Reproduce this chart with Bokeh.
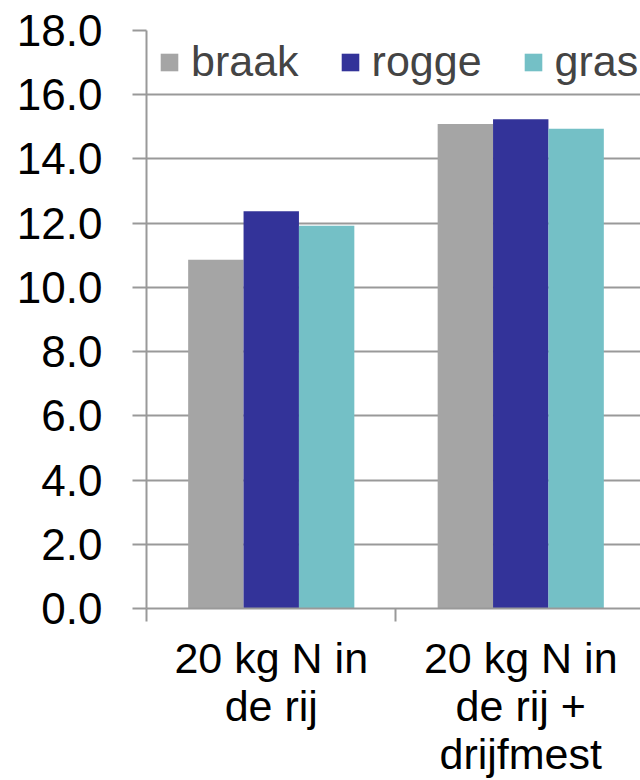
from bokeh.plotting import figure
from bokeh.models import (ColumnDataSource, Range1d, FixedTicker, Legend, LegendItem,
                          NumeralTickFormatter)
from bokeh.transform import dodge
from bokeh.embed import file_html
from bokeh.resources import INLINE

# ---- data ----
categories = ["20 kg N in\nde rij", "20 kg N in\nde rij +\ndrijfmest"]
series_names = ["braak", "rogge", "gras"]
braak = [10.86, 15.09]
rogge = [12.37, 15.24]
gras = [11.92, 14.94]
colors = ["#A5A5A5", "#333399", "#74C0C6"]
y_ticks = [0, 2, 4, 6, 8, 10, 12, 14, 16, 18]

FONT = "Liberation Sans"
FS = "43px"
GRID = "#999999"

pos = [i + 0.5 for i in range(len(categories))]
src = ColumnDataSource(dict(x=pos, braak=braak, rogge=rogge, gras=gras))

p = figure(width=640, height=780, output_backend="svg", toolbar_location=None,
           x_range=Range1d(0, 1.98), y_range=Range1d(0, 18),
           min_border_left=146, min_border_right=0, min_border_top=30, min_border_bottom=171)
p.outline_line_color = None
p.background_fill_color = "white"

bw = 0.222
offsets = [-bw, 0.0, bw]
renderers = []
for name, off, col in zip(series_names, offsets, colors):
    r = p.vbar(x=dodge("x", off), top=name, width=bw, source=src,
               fill_color=col, line_color=None)
    renderers.append(r)

# y axis
yax = p.yaxis[0]
yax.ticker = FixedTicker(ticks=y_ticks)
yax.formatter = NumeralTickFormatter(format="0.0")
yax.major_tick_out = 14
yax.major_tick_in = 0
yax.minor_tick_line_color = None
yax.axis_line_color = GRID
yax.axis_line_width = 2
yax.major_tick_line_color = GRID
yax.major_tick_line_width = 2
yax.major_label_text_font = FONT
yax.major_label_text_font_size = "44px"
yax.major_label_text_color = "black"
yax.major_label_standoff = 30

# x axis
xax = p.xaxis[0]
xax.ticker = FixedTicker(ticks=pos, minor_ticks=[0, 1, 2])
xax.major_label_overrides = {pv: c for pv, c in zip(pos, categories)}
xax.major_tick_line_color = None
xax.major_tick_out = 0
xax.major_tick_in = 0
xax.minor_tick_out = 13
xax.minor_tick_in = 0
xax.minor_tick_line_color = GRID
xax.minor_tick_line_width = 2
xax.axis_line_color = GRID
xax.axis_line_width = 2
xax.major_label_text_font = FONT
xax.major_label_text_font_size = FS
xax.major_label_text_color = "black"
xax.major_label_text_line_height = 1.0
xax.major_label_standoff = 12

p.xgrid.grid_line_color = None
p.ygrid.ticker = FixedTicker(ticks=y_ticks)
p.ygrid.grid_line_color = GRID
p.ygrid.grid_line_width = 2

legend = Legend(items=[LegendItem(label=n, renderers=[r]) for n, r in zip(series_names, renderers)],
                orientation="horizontal", location=(12, 522),
                padding=0, margin=0, spacing=40, label_standoff=11,
                glyph_width=22, glyph_height=22,
                label_text_font=FONT, label_text_font_size=FS,
                background_fill_alpha=0, border_line_color=None)
p.add_layout(legend)

open("out.html", "w").write(file_html(p, INLINE))
